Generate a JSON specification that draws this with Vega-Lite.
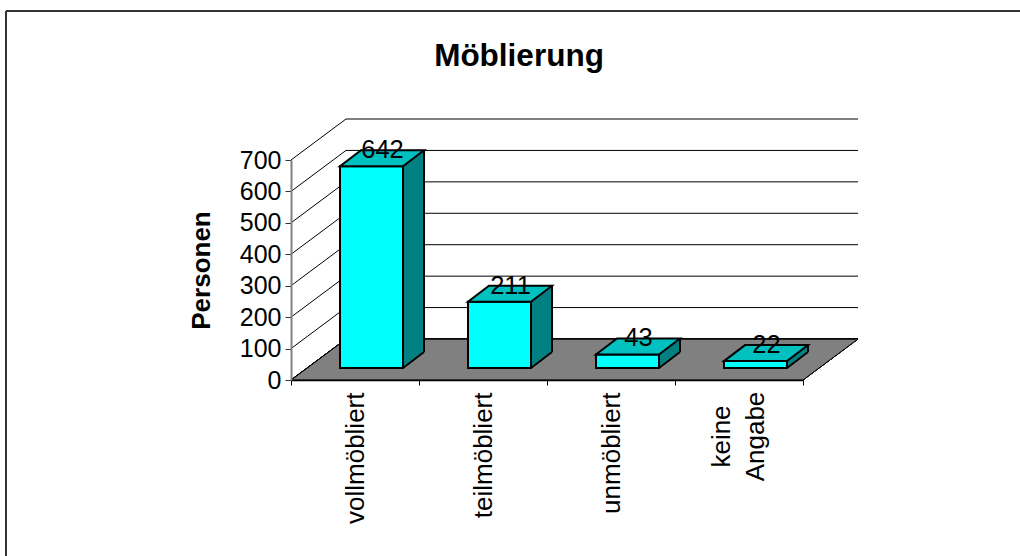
{
  "$schema": "https://vega.github.io/schema/vega-lite/v6.json",
  "width": 512,
  "height": 220,
  "autosize": {"type": "none"},
  "padding": {"left": 291, "top": 160, "right": 217, "bottom": 176},
  "background": "white",
  "config": {"font": "Liberation Sans", "view": {"stroke": null}},
  "title": {"text": "Möblierung", "fontSize": 31.5, "fontWeight": "bold", "font": "Liberation Sans", "color": "#000000", "anchor": "middle", "frame": "group", "dx": -28, "baseline": "alphabetic", "offset": -87},
  "data": {"values": [
    {"Kategorie": "vollmöbliert", "Personen": 642},
    {"Kategorie": "teilmöbliert", "Personen": 211},
    {"Kategorie": "unmöbliert", "Personen": 43},
    {"Kategorie": "keine Angabe", "Personen": 22}
  ]},
  "layer": [
    {
      "mark": {"type": "point", "shape": "M0,0 L512,0 L567,-41 L55,-41 Z", "size": 4, "filled": true, "fill": "#808080", "stroke": "#000000", "strokeWidth": 1, "opacity": 1},
      "encoding": {
        "x": {"value": 0},
        "y": {"datum": 0, "type": "quantitative", "scale": {"domain": [0, 700], "nice": false}}
      }
    },
    {
      "data": {"values": [{"v": 0}, {"v": 100}, {"v": 200}, {"v": 300}, {"v": 400}, {"v": 500}, {"v": 600}, {"v": 700}]},
      "mark": {"type": "rule", "color": "#000000", "strokeWidth": 1, "x2Offset": 55, "y2Offset": -41},
      "encoding": {
        "x": {"value": 0},
        "x2": {"value": 0},
        "y": {"field": "v", "type": "quantitative", "title": "Personen"},
        "y2": {"field": "v"}
      }
    },
    {
      "data": {"values": [{"v": 0}, {"v": 100}, {"v": 200}, {"v": 300}, {"v": 400}, {"v": 500}, {"v": 600}, {"v": 700}]},
      "mark": {"type": "rule", "color": "#000000", "strokeWidth": 1, "xOffset": 55, "x2Offset": 55, "yOffset": -41},
      "encoding": {
        "x": {"value": 0},
        "x2": {"value": "width"},
        "y": {"field": "v", "type": "quantitative", "title": "Personen"}
      }
    },
    {
      "mark": {"type": "bar", "width": 21, "xOffset": 58.5, "yOffset": -28, "y2Offset": -12, "fill": "#008080"},
      "encoding": {
        "x": {"field": "Kategorie", "type": "nominal", "sort": null, "title": null, "scale": {"paddingInner": 0, "paddingOuter": 0}},
        "y": {"field": "Personen", "type": "quantitative", "title": "Personen"},
        "y2": {"datum": 0}
      }
    },
    {
      "mark": {"type": "point", "shape": "M0,0 L21,0 L21,-16 Z", "size": 4, "filled": true, "fill": "#808080", "strokeWidth": 0, "opacity": 1, "xOffset": 48, "yOffset": -12},
      "encoding": {
        "x": {"field": "Kategorie", "type": "nominal", "sort": null, "title": null},
        "y": {"datum": 0, "type": "quantitative"}
      }
    },
    {
      "mark": {"type": "rule", "color": "#000000", "strokeWidth": 2, "xOffset": 69, "yOffset": -28, "y2Offset": -28},
      "encoding": {
        "x": {"field": "Kategorie", "type": "nominal", "sort": null, "title": null},
        "y": {"field": "Personen", "type": "quantitative", "title": "Personen"},
        "y2": {"datum": 0}
      }
    },
    {
      "mark": {"type": "rule", "color": "#000000", "strokeWidth": 2, "xOffset": 48, "x2Offset": 69, "yOffset": -12, "y2Offset": -28},
      "encoding": {
        "x": {"field": "Kategorie", "type": "nominal", "sort": null, "title": null},
        "x2": {"field": "Kategorie"},
        "y": {"datum": 0, "type": "quantitative"},
        "y2": {"datum": 0}
      }
    },
    {
      "mark": {"type": "bar", "width": 63, "xOffset": 16.5, "yOffset": -12, "y2Offset": -12, "fill": "#00FFFF", "stroke": "#000000", "strokeWidth": 2},
      "encoding": {
        "x": {"field": "Kategorie", "type": "nominal", "sort": null, "title": null,
          "axis": {"title": null, "labelAngle": -90, "labelFontSize": 26, "labelColor": "#000000", "labelBaseline": "middle",
            "labelAlign": {"condition": {"test": "datum.value == 'keine Angabe'", "value": "center"}, "value": "right"},
            "labelPadding": {"condition": {"test": "datum.value == 'keine Angabe'", "value": 51}, "value": 7},
            "labelOffset": {"condition": {"test": "datum.value == 'keine Angabe'", "value": -18}, "value": 0},
            "labelLineHeight": 34,
            "labelExpr": "datum.value == 'keine Angabe' ? ['keine', 'Angabe'] : datum.label",
            "labelOverlap": false, "labelLimit": 0,
            "tickBand": "extent", "tickSize": 5, "tickColor": "#000000", "tickWidth": 1,
            "domainColor": "#000000", "domainWidth": 1.5, "grid": false, "zindex": 1}},
        "y": {"field": "Personen", "type": "quantitative", "title": "Personen",
          "axis": {"title": "Personen", "titleFontSize": 26, "titleFontWeight": "bold", "titleColor": "#000000", "titlePadding": 25,
            "values": [0, 100, 200, 300, 400, 500, 600, 700], "tickCount": 8,
            "labelFontSize": 25, "labelColor": "#000000", "labelPadding": 4, "labelOverlap": false, "labelFlush": false,
            "tickSize": 6, "tickColor": "#333333", "tickWidth": 1,
            "domainColor": "#808080", "domainWidth": 2, "grid": false, "zindex": 1}},
        "y2": {"datum": 0}
      }
    },
    {
      "mark": {"type": "point", "shape": "M-31.5,0 L31.5,0 L52.5,-16 L-10.5,-16 Z", "size": 4, "filled": true, "fill": "#00C0C0", "stroke": "#000000", "strokeWidth": 2, "opacity": 1, "xOffset": 16.5, "yOffset": -12},
      "encoding": {
        "x": {"field": "Kategorie", "type": "nominal", "sort": null, "title": null},
        "y": {"field": "Personen", "type": "quantitative", "title": "Personen"}
      }
    },
    {
      "mark": {"type": "text", "fontSize": 25.5, "color": "#000000", "baseline": "alphabetic", "align": "center", "dx": 27.5, "dy": -20},
      "encoding": {
        "x": {"field": "Kategorie", "type": "nominal", "sort": null, "title": null},
        "y": {"field": "Personen", "type": "quantitative", "title": "Personen"},
        "text": {"field": "Personen", "type": "quantitative"}
      }
    },
    {
      "mark": {"type": "rule", "color": "#333333", "strokeWidth": 2, "xOffset": -285, "x2Offset": 217, "yOffset": -149},
      "encoding": {"x": {"value": 0}, "x2": {"value": "width"}, "y": {"value": 0}}
    },
    {
      "mark": {"type": "rule", "color": "#333333", "strokeWidth": 2, "xOffset": -285, "yOffset": -149, "y2Offset": 176},
      "encoding": {"x": {"value": 0}, "y": {"value": 0}, "y2": {"value": "height"}}
    }
  ]
}
